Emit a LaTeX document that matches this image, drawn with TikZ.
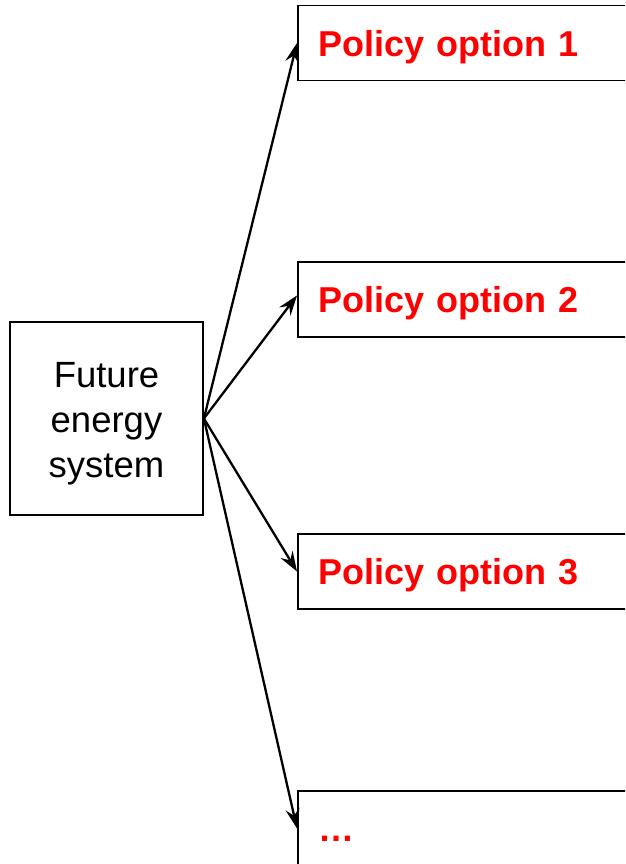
\documentclass[tikz,border=0pt]{standalone}
\usepackage{fontspec}
\setmainfont{Liberation Sans}
\usetikzlibrary{arrows.meta}
\begin{document}
\begin{tikzpicture}[x=1pt,y=1pt,
  srcbox/.style={draw, line width=1.8pt, minimum width=193pt, minimum height=193pt, align=center, inner sep=0pt},
  srctext/.style={align=center, inner sep=0pt, font=\fontsize{36.5}{45}\selectfont},
  optbox/.style={draw, line width=1.8pt, anchor=west, minimum height=75pt, text width=300pt, inner xsep=21pt, inner ysep=0pt, text height=31pt, text depth=4pt, align=left, text=red, font=\fontsize{36}{44}\selectfont\bfseries},
  branch/.style={line width=2.3pt, -{Stealth[length=20pt, width=14pt, inset=7pt]}}]
\useasboundingbox (0,0) rectangle (625,864);
\clip (0,0) rectangle (625,864);
\node[srcbox] (src) at (106.5,445.5) {};
\node[srctext] (srct) at ([yshift=-5pt]src.center) {Future\\energy\\system};
\node[optbox] (p1) at (297,821) {Policy option 1};
\node[optbox] (p2) at (297,564.5) {Policy option 2};
\node[optbox] (p3) at (297,292.5) {Policy option 3};
\node[optbox] (p4) at (297,35.5) {…};
\draw[branch] (src.east) -- (p1.west);
\draw[branch] (src.east) -- ([yshift=4pt]p2.west);
\draw[branch] (src.east) -- (p3.west);
\draw[branch] (src.east) -- (p4.west);
\end{tikzpicture}
\end{document}
